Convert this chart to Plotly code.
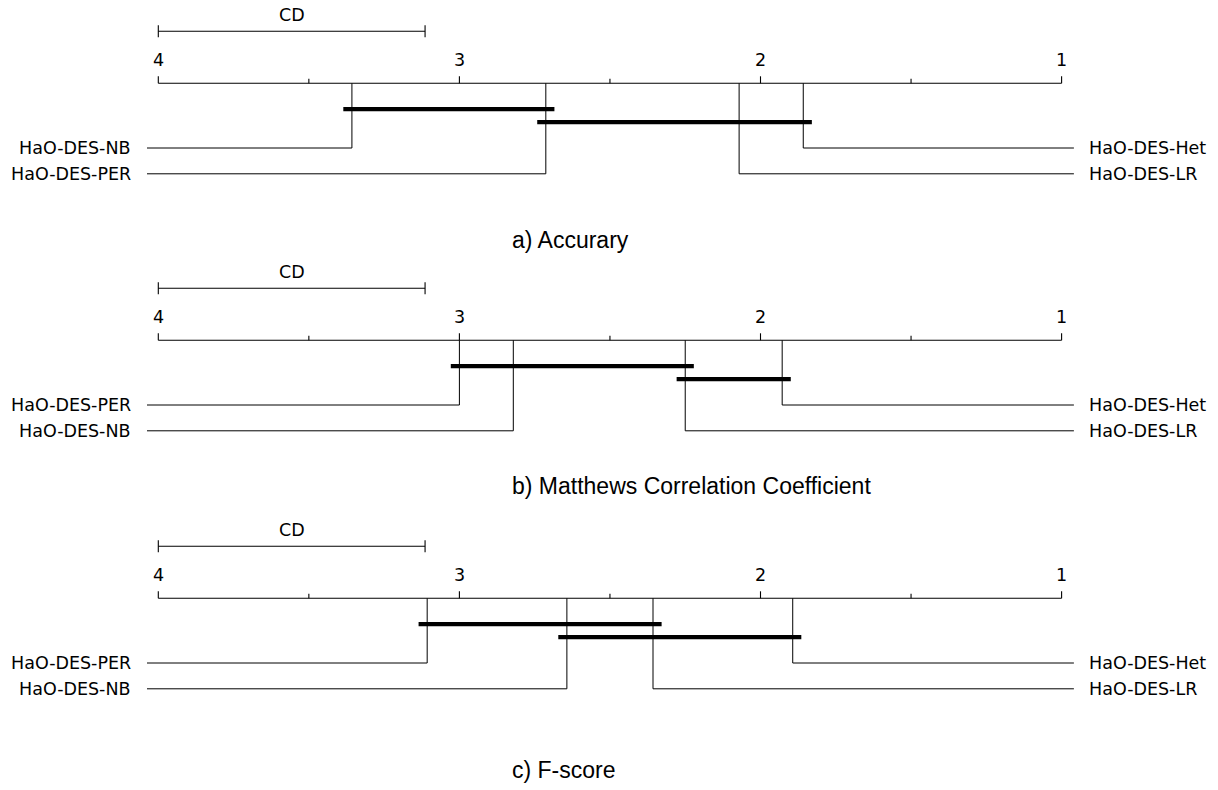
import plotly.graph_objects as go

# ---------------- data ----------------
RANK_TICKS = [4, 3, 2, 1]
MINOR_TICKS = [3.5, 2.5, 1.5]
CD = 0.886
TITLES = ["a) Accurary", "b) Matthews Correlation Coefficient", "c) F-score"]

LEFT_METHODS = [["HaO-DES-NB", "HaO-DES-PER"],
                ["HaO-DES-PER", "HaO-DES-NB"],
                ["HaO-DES-PER", "HaO-DES-NB"]]
LEFT_RANKS = [[3.357, 2.713],
              [3.000, 2.821],
              [3.107, 2.643]]
RIGHT_METHODS = [["HaO-DES-Het", "HaO-DES-LR"],
                 ["HaO-DES-Het", "HaO-DES-LR"],
                 ["HaO-DES-Het", "HaO-DES-LR"]]
RIGHT_RANKS = [[1.858, 2.071],
               [1.928, 2.250],
               [1.893, 2.357]]
# cliques of non-significantly different methods (worst rank, best rank)
CLIQUE_LO = [[3.357, 2.713], [3.000, 2.250], [3.107, 2.643]]
CLIQUE_HI = [[2.713, 1.858], [2.250, 1.928], [2.357, 1.893]]

# ---------------- layout constants ----------------
W, H = 1218, 790
PX_PER_RANK = 301.1
X_OF_4 = 158.3
X_RANGE = [4 + X_OF_4 / PX_PER_RANK, 4 - (W - X_OF_4) / PX_PER_RANK]
AXIS_Y = [83.3, 340.3, 598.3]
ROW_DY = [64.7, 90.5]
BAR_DY = [25.8, 38.8]
BAR_EXT = 8.6 / PX_PER_RANK
LINE_LEFT = 4 + 11.3 / PX_PER_RANK
LINE_RIGHT = 1 - 12.3 / PX_PER_RANK
LABEL_LEFT = 4 + 26.3 / PX_PER_RANK
LABEL_RIGHT = 1 - 26.6 / PX_PER_RANK
TITLE_Y = [240, 486, 770]
TITLE_X = 510

DIAG_FONT = dict(family="DejaVu Sans", size=17.5, color="black")
TICK_FONT = dict(family="DejaVu Sans", size=17.5, color="black")
TITLE_FONT = dict(family="Liberation Sans, Arial", size=23, color="black")

fig = go.Figure()
ann = []


def add_line(xs, ys, width=1.0, color="black"):
    fig.add_trace(go.Scatter(x=xs, y=ys, mode="lines",
                             line=dict(color=color, width=width),
                             hoverinfo="skip", showlegend=False))


for p in range(3):
    ay = AXIS_Y[p]
    # main axis
    add_line([4, 1], [ay, ay], 1.1)
    # ticks
    xs, ys = [], []
    for t in RANK_TICKS:
        xs += [t, t, None]
        ys += [ay - 7, ay, None]
    for t in MINOR_TICKS:
        xs += [t, t, None]
        ys += [ay - 4.5, ay, None]
    add_line(xs, ys, 1.1)
    for t in RANK_TICKS:
        ann.append(dict(x=t, y=ay - 23.3, text=str(t), showarrow=False,
                        xanchor="center", yanchor="middle", font=TICK_FONT))
    # CD bar
    cy = ay - 52
    add_line([4, 4, None, 4, 4 - CD, None, 4 - CD, 4 - CD],
             [cy - 6, cy + 6, None, cy, cy, None, cy - 6, cy + 6], 1.1)
    ann.append(dict(x=4 - CD / 2, y=ay - 68.3, text="CD", showarrow=False,
                    xanchor="center", yanchor="middle", font=DIAG_FONT))
    # left methods
    for i, (m, r) in enumerate(zip(LEFT_METHODS[p], LEFT_RANKS[p])):
        ry = ay + ROW_DY[i]
        add_line([r, r, LINE_LEFT], [ay, ry, ry], 1.0)
        ann.append(dict(x=LABEL_LEFT, y=ry, text=m, showarrow=False,
                        xanchor="right", yanchor="middle", font=DIAG_FONT,
                        borderpad=0))
    # right methods
    for i, (m, r) in enumerate(zip(RIGHT_METHODS[p], RIGHT_RANKS[p])):
        ry = ay + ROW_DY[i]
        add_line([r, r, LINE_RIGHT], [ay, ry, ry], 1.0)
        ann.append(dict(x=LABEL_RIGHT, y=ry, text=m, showarrow=False,
                        xanchor="left", yanchor="middle", font=DIAG_FONT,
                        borderpad=0))
    # cliques
    for j, (lo, hi) in enumerate(zip(CLIQUE_LO[p], CLIQUE_HI[p])):
        by = ay + BAR_DY[j]
        add_line([lo + BAR_EXT, hi - BAR_EXT], [by, by], 4.2)
    # title
    ann.append(dict(x=TITLE_X / W, xref="paper", y=TITLE_Y[p], yref="y",
                    text=TITLES[p], showarrow=False, xanchor="left",
                    yanchor="middle", font=TITLE_FONT))

fig.update_layout(
    width=W, height=H,
    margin=dict(l=0, r=0, t=0, b=0),
    paper_bgcolor="white", plot_bgcolor="white",
    xaxis=dict(range=X_RANGE, visible=False, fixedrange=True),
    yaxis=dict(range=[H, 0], visible=False, fixedrange=True),
    annotations=ann,
    showlegend=False,
)

fig.write_html("out.html",
               config={"displayModeBar": False},
               post_script="document.body.style.margin='0';"
                           "document.body.style.overflow='hidden';")
